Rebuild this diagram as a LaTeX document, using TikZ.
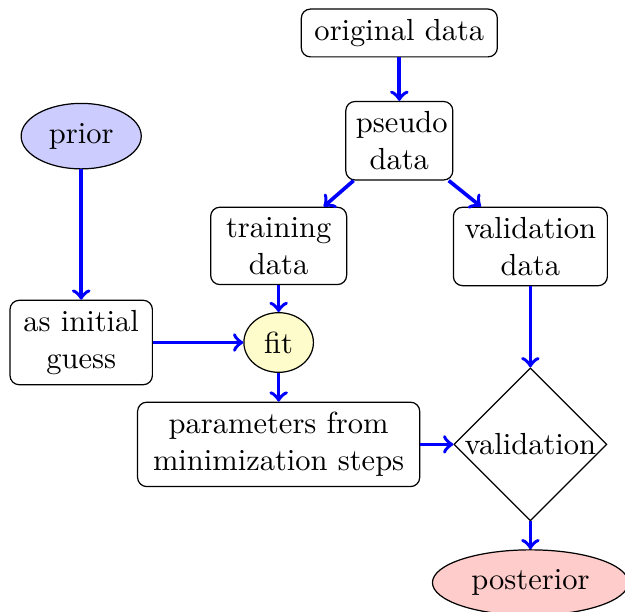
\documentclass[tikz,border=0pt]{standalone}
\usetikzlibrary{shapes.geometric,positioning}

\begin{document}
\begin{tikzpicture}[
  block/.style={draw, rectangle, rounded corners=3pt, align=center, text width=#1},
  block/.default=40pt,
  cloud/.style={draw, ellipse, align=center},
  decision/.style={draw, diamond, aspect=1, inner sep=0pt},
  line/.style={->, very thick, draw=blue}
]
\useasboundingbox (0,0) rectangle (7.20,-7.05);

\node[block=57.6pt] (orig) at (4.60,-0.38) {original data};
\node[block=28.4pt, below=5mm of orig] (pseudo) {pseudo\\data};
\node[block=37.9pt, below=3mm of pseudo, xshift=-13.9mm] (train) {training\\data};
\node[block=43.8pt, below=3mm of pseudo, xshift=15.1mm] (vdata) {validation\\data};
\node[cloud, fill=yellow!20, below=3.1mm of train] (fit) {fit};
\node[block, left=10.4mm of fit] (guess) {as initial\\guess};
\node[cloud, fill=blue!20, above=15mm of guess] (prior) {prior};
\node[block=85.8pt, below=3.3mm of fit] (params) {parameters from\\minimization steps};
\node[decision] (valid) at (vdata |- params) {validation};
\node[cloud, fill=red!20, below=3.2mm of valid] (post) {posterior};

\draw[line] (orig) -- (pseudo);
\draw[line] (pseudo) -- (train);
\draw[line] (pseudo) -- (vdata);
\draw[line] (prior) -- (guess);
\draw[line] (guess) -- (fit);
\draw[line] (train) -- (fit);
\draw[line] (fit) -- (params);
\draw[line] (params) -- (valid);
\draw[line] (vdata) -- (valid);
\draw[line] (valid) -- (post);

\end{tikzpicture}
\end{document}
